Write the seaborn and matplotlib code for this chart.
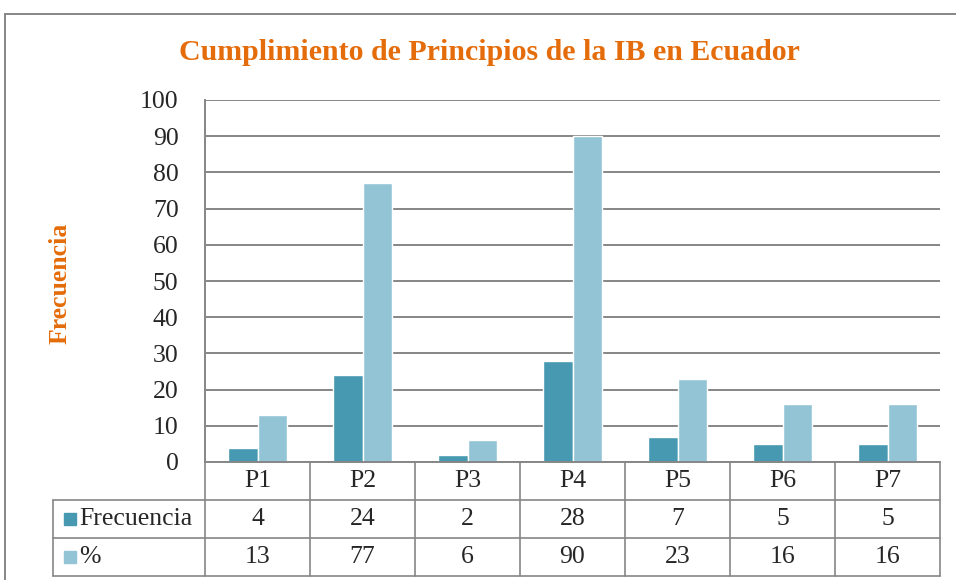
import pandas as pd
import matplotlib
matplotlib.use('Agg')
import matplotlib.pyplot as plt
import matplotlib.transforms as mtransforms
from matplotlib.patches import Rectangle
import seaborn as sns

# Datos
principios = ['P1', 'P2', 'P3', 'P4', 'P5', 'P6', 'P7']
frecuencia = [4, 24, 2, 28, 7, 5, 5]
porcentaje = [13, 77, 6, 90, 23, 16, 16]
series = ['Frecuencia', '%']
colores = ['#4699B0', '#93C4D6']

naranja = '#E46C0A'
gris = '#868686'

df = pd.DataFrame({
    'principio': principios * 2,
    'valor': frecuencia + porcentaje,
    'serie': [series[0]] * len(principios) + [series[1]] * len(principios),
})

sns.set_style('white')
plt.rcParams['font.family'] = ['Liberation Serif', 'DejaVu Serif']

fig = plt.figure(figsize=(9.56, 5.8), dpi=100)
ax = fig.add_axes([205 / 956, 1 - 462 / 580, 735 / 956, 362 / 580])

sns.barplot(data=df, x='principio', y='valor', hue='serie', palette=colores,
            width=0.57, ax=ax, legend=False, saturation=1)

fs = 18.5
ax.set_ylim(0, 100)
ax.set_xlim(-0.5, len(principios) - 0.5)
ax.set_yticks(range(0, 101, 10))
ax.tick_params(axis='y', labelsize=fs, length=0, pad=19)
ax.set_xticks([])
ax.set_xlabel('')
ax.set_ylabel('')
ax.yaxis.grid(True, color=gris, linewidth=1.4)
ax.set_axisbelow(True)
for s in ['top', 'right', 'bottom']:
    ax.spines[s].set_visible(False)
ax.spines['left'].set_color(gris)
ax.spines['left'].set_linewidth(1.4)

# Titulo y etiqueta del eje
fig.text(489 / 956, 1 - 52 / 580, 'Cumplimiento de Principios de la IB en Ecuador',
         ha='center', va='center', fontsize=21.5, fontweight='bold', color=naranja)
fig.text(60 / 956, 1 - 283 / 580, 'Frecuencia', rotation=90, ha='center', va='center',
         fontsize=18.5, fontweight='bold', color=naranja)

# Marco exterior
fig.add_artist(Rectangle((5 / 956, -0.1), 1.2, 1.1 - 14 / 580,
                         transform=fig.transFigure, fill=False,
                         edgecolor=gris, linewidth=1.4))

# Tabla de datos
tr = mtransforms.blended_transform_factory(ax.transData, ax.transAxes)
fila = 38 / 362
n = len(principios)
x_izq = -0.5 - 152 / 105
x_der = n - 0.5
lw = 1.2
# lineas horizontales
ax.plot([-0.5, x_der], [0, 0], transform=tr, color=gris, lw=1.4, clip_on=False)
for k in (1, 2, 3):
    ax.plot([x_izq, x_der], [-k * fila, -k * fila], transform=tr, color=gris,
            lw=lw, clip_on=False)
# lineas verticales
for i in range(n + 1):
    ax.plot([i - 0.5, i - 0.5], [0, -3 * fila], transform=tr, color=gris,
            lw=lw, clip_on=False)
ax.plot([x_izq, x_izq], [-fila, -3 * fila], transform=tr, color=gris,
        lw=lw, clip_on=False)

for i, p in enumerate(principios):
    ax.text(i, -0.5 * fila, p, transform=tr, ha='center', va='center', fontsize=fs)
    ax.text(i, -1.5 * fila, str(frecuencia[i]), transform=tr, ha='center',
            va='center', fontsize=fs)
    ax.text(i, -2.5 * fila, str(porcentaje[i]), transform=tr, ha='center',
            va='center', fontsize=fs)

for k, (nombre, c) in enumerate(zip(series, colores)):
    yc = -(1.5 + k) * fila
    ax.add_patch(Rectangle((x_izq + 0.1, yc - 0.017), 0.115, 0.034, transform=tr,
                           color=c, clip_on=False))
    ax.text(x_izq + 0.25, yc, nombre, transform=tr, ha='left', va='center',
            fontsize=fs)

fig.savefig('out.png', dpi=100)
